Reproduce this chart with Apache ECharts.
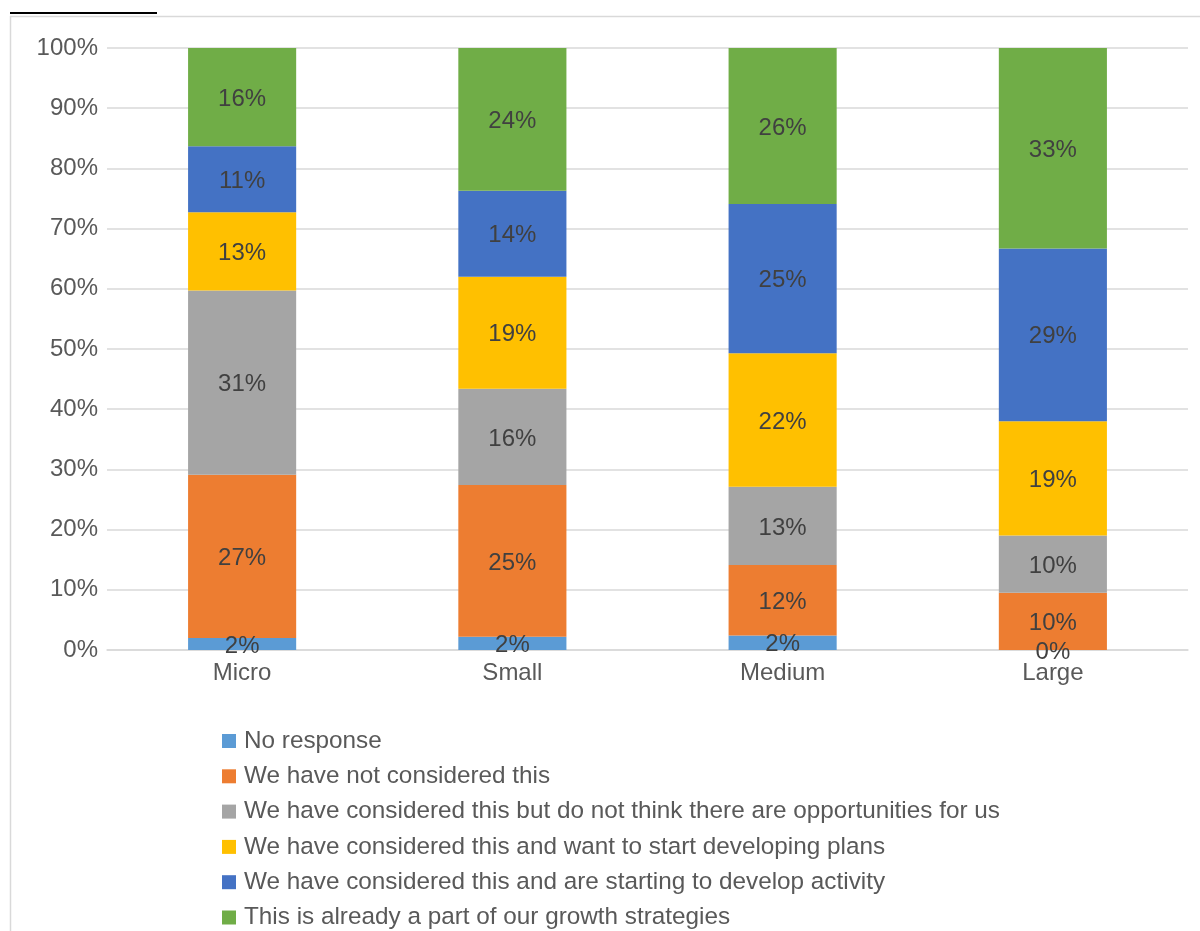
<!DOCTYPE html>
<html>
<head>
<meta charset="utf-8">
<script src="https://cdn.jsdelivr.net/npm/echarts@6/dist/echarts.min.js"></script>
<style>
html,body{margin:0;padding:0;background:#fff;}
#chart{width:1200px;height:931px;}
</style>
</head>
<body>
<div id="chart"></div>
<script>
const categories = ['Micro', 'Small', 'Medium', 'Large'];
const seriesNames = [
  'No response',
  'We have not considered this',
  'We have considered this but do not think there are opportunities for us',
  'We have considered this and want to start developing plans',
  'We have considered this and are starting to develop activity',
  'This is already a part of our growth strategies'
];
const noResponse    = [2.0, 2.2, 2.4, 0.0];
const notConsidered = [27.1, 25.2, 11.7, 9.5];
const noOpportunity = [30.6, 16.0, 13.0, 9.5];
const wantPlans     = [13.0, 18.6, 22.2, 19.0];
const developing    = [11.0, 14.3, 24.8, 28.7];
const alreadyPart   = [16.3, 23.7, 25.9, 33.3];
const yTicks = ['0%', '10%', '20%', '30%', '40%', '50%', '60%', '70%', '80%', '90%', '100%'];

const colors = ['#5b9bd5', '#ed7d31', '#a5a5a5', '#ffc000', '#4472c4', '#70ad47'];
const allData = [noResponse, notConsidered, noOpportunity, wantPlans, developing, alreadyPart];

const chart = echarts.init(document.getElementById('chart'), null, {renderer: 'canvas'});
const font = '"Liberation Sans", Arial, sans-serif';

chart.setOption({
  animation: false,
  backgroundColor: '#fff',
  textStyle: {fontFamily: font},
  graphic: [
    {type: 'line', shape: {x1: 10, y1: 16.5, x2: 1200, y2: 16.5}, style: {stroke: '#d9d9d9', lineWidth: 1.5}, silent: true},
    {type: 'line', shape: {x1: 10.5, y1: 16, x2: 10.5, y2: 931}, style: {stroke: '#d9d9d9', lineWidth: 1.5}, silent: true},
    {type: 'line', shape: {x1: 10, y1: 13, x2: 157, y2: 13}, style: {stroke: '#000', lineWidth: 2}, silent: true}
  ],
  grid: {left: 107, right: 12, top: 48, bottom: 281, containLabel: false},
  legend: {
    orient: 'vertical',
    left: 222,
    top: 729,
    padding: 0,
    height: 210,
    itemWidth: 14,
    itemHeight: 14,
    itemGap: 11.3,
    icon: 'rect',
    data: seriesNames,
    textStyle: {fontSize: 24.3, color: '#595959', fontFamily: font, lineHeight: 24, padding: [0, 0, 0, 3]}
  },
  xAxis: {
    type: 'category',
    data: categories,
    axisLine: {show: true, lineStyle: {color: '#d9d9d9', width: 1.5}},
    axisTick: {show: false},
    axisLabel: {fontSize: 24, color: '#595959', margin: 11, fontFamily: font}
  },
  yAxis: {
    type: 'value',
    min: 0,
    max: 100,
    interval: 10,
    axisLine: {show: false},
    axisTick: {show: false},
    splitLine: {lineStyle: {color: '#d9d9d9', width: 1.5}},
    axisLabel: {
      fontSize: 24, color: '#595959', margin: 9, fontFamily: font,
      formatter: function (v) { return yTicks[Math.round(v / 10)]; }
    }
  },
  series: seriesNames.map(function (name, i) {
    return {
      name: name,
      type: 'bar',
      stack: 'total',
      barWidth: '40%',
      data: allData[i],
      itemStyle: {color: colors[i]},
      label: {
        show: true,
        position: 'inside',
        offset: [0, 2],
        fontSize: 24,
        color: '#404040',
        fontFamily: font,
        formatter: function (p) { return Math.round(p.value) + '%'; }
      }
    };
  })
});
</script>
</body>
</html>
